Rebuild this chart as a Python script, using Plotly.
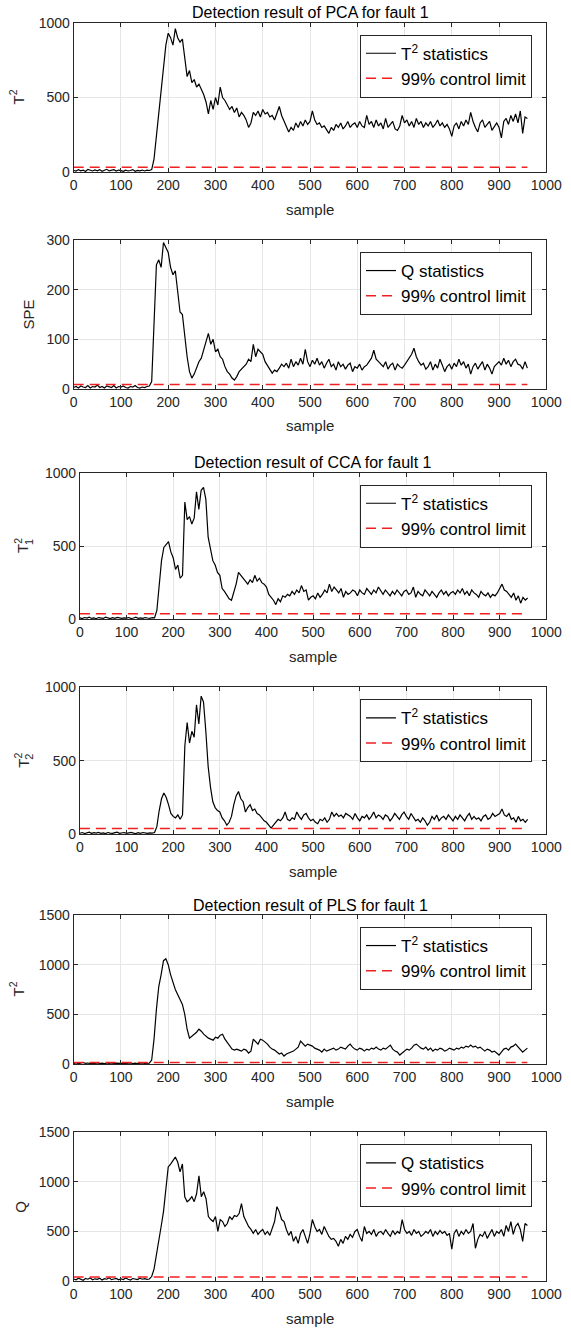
import plotly.graph_objects as go

sample_step = 5

pca_t2 = [
    12, 8, 18, 10, 15, 6, 20, 12, 9, 16,
    10, 18, 7, 14, 20, 9, 13, 17, 8, 15,
    11, 6, 14, 9, 12, 18, 7, 13, 10, 15,
    9, 14, 12, 18, 90, 240, 380, 520, 700, 850,
    930, 900, 850, 960, 900, 870, 890, 760, 640, 680,
    600, 620, 570, 590, 560, 520, 470, 390, 480, 420,
    500, 450, 570, 500, 480, 450, 420, 440, 400, 430,
    370, 400, 380, 350, 300, 330, 400, 380, 410, 370,
    420, 390, 400, 370, 380, 350, 400, 440, 380, 340,
    310, 270, 300, 280, 330, 300, 340, 310, 350, 320,
    340, 410, 350, 320, 330, 300, 310, 280, 260, 300,
    280, 320, 300, 330, 290, 310, 340, 300, 320, 330,
    300, 340, 310, 300, 380, 320, 340, 300, 350, 310,
    330, 290, 360, 300, 320, 340, 290, 280, 310, 380,
    330, 350, 310, 340, 300, 360, 320, 340, 300, 330,
    310, 340, 300, 320, 350, 310, 330, 300, 320, 290,
    240, 310, 330, 290, 340, 310, 350, 320, 400, 340,
    300, 270, 330, 350, 300, 320, 340, 280, 310, 330,
    300, 230, 340, 360, 320, 380, 340, 390, 330, 410,
    260, 370, 360,
]

pca_spe = [
    3, 5, 2, 6, 4, 3, 7, 2, 5, 4,
    8, 3, 5, 2, 6, 4, 3, 7, 2, 5,
    4, 6, 3, 2, 5, 4, 7, 3, 2, 4,
    3, 5, 6, 15, 120, 250, 260, 245, 295, 285,
    275, 245, 230, 238, 195, 155, 150, 105, 65, 35,
    22, 30, 42, 55, 62, 80, 95, 112, 90, 100,
    75, 80, 65, 60, 45, 35, 30, 22, 18, 25,
    35, 40, 45, 50, 60, 55, 90, 65, 80, 75,
    70, 55, 48, 40, 32, 38, 35, 42, 50, 45,
    52, 42, 60, 45, 55, 48, 62, 50, 80, 55,
    45, 58, 50, 62, 48, 55, 42, 52, 60, 45,
    50, 38, 55, 45, 50, 40, 48, 52, 35, 45,
    42, 50, 38, 45, 48, 55, 62, 78, 60, 55,
    50, 45, 55, 40, 48, 52, 38, 50, 45, 42,
    48, 55, 62, 70, 82, 65, 55, 48, 52, 40,
    45, 55, 38, 50, 42, 60, 48, 35, 45, 50,
    40, 52, 45, 60, 48, 55, 42, 50, 30, 45,
    52, 40, 48, 55, 38, 50, 42, 30, 45, 50,
    55, 48, 62, 50, 58, 45, 55, 60, 50, 48,
    40, 55, 42,
]

cca_t1 = [
    10, 5, 12, 8, 15, 6, 10, 4, 12, 8,
    6, 14, 9, 5, 11, 7, 13, 9, 6, 10,
    8, 12, 5, 9, 14, 7, 10, 6, 12, 9,
    7, 11, 10, 60, 220, 400, 490, 510, 530, 460,
    420, 340, 370, 280, 300, 800, 680, 700, 650, 690,
    870, 750, 880, 900, 820, 560, 470, 400, 370, 320,
    300, 210, 190, 160, 140, 130, 180, 240, 320, 300,
    280, 260, 240, 270, 250, 300, 260, 280, 250, 240,
    220, 170, 150, 130, 100, 140, 120, 160, 150, 170,
    160, 190, 170, 200, 180, 230, 190, 200, 130, 150,
    160, 140, 180, 150, 170, 200, 180, 240, 190, 220,
    200, 180, 210, 150, 190, 170, 180, 200, 190, 160,
    200, 180, 170, 210, 190, 170, 200, 180, 220, 190,
    170, 200, 180, 160, 190, 170, 200, 180, 160, 190,
    200, 170, 180, 220, 150, 190, 170, 160, 200, 180,
    160, 190, 170, 150, 180, 200, 170, 190, 160, 180,
    190, 170, 200, 180, 210, 170, 190, 160, 200, 180,
    170, 150, 190, 170, 160, 180, 150, 170, 160, 180,
    210, 240, 200, 190, 170, 150, 180, 130, 160, 110,
    150, 130, 145,
]

cca_t2 = [
    5, 10, 3, 8, 12, 4, 9, 6, 11, 5,
    8, 3, 10, 6, 4, 9, 12, 5, 7, 10,
    4, 8, 11, 6, 3, 9, 5, 10, 7, 4,
    8, 6, 10, 50, 160, 240, 280, 250, 200, 140,
    120, 110, 130, 100, 130, 600, 760, 620, 700, 660,
    880, 750, 940, 900, 700, 460, 320, 220, 180, 160,
    150, 110, 90, 60, 80, 120, 200, 260, 290, 240,
    220, 150, 180, 200, 160, 170, 140, 130, 110, 90,
    80, 60, 40, 60, 80, 100, 90, 110, 150, 100,
    90, 110, 100, 150, 120, 100, 130, 140, 110, 90,
    100, 80, 70, 100, 90, 110, 80, 100, 150, 120,
    140, 120, 130, 110, 140, 130, 120, 100, 140, 110,
    90, 120, 110, 130, 100, 120, 150, 110, 130, 120,
    100, 130, 120, 90, 110, 140, 120, 100, 130, 150,
    120, 100, 140, 110, 90, 100, 80, 110, 90, 60,
    80, 120, 100, 130, 90, 110, 120, 100, 130, 110,
    90, 120, 100, 130, 110, 90, 120, 140, 100, 120,
    100, 110, 90, 120, 130, 100, 110, 140, 120, 130,
    140, 170, 130, 120, 140, 100, 110, 80, 120, 90,
    100, 80, 100,
]

pls_t2 = [
    5, 12, 3, 8, 15, 6, 10, 4, 9, 7,
    11, 5, 8, 3, 10, 6, 12, 4, 9, 7,
    6, 10, 4, 8, 12, 5, 9, 3, 7, 11,
    6, 9, 8, 40, 250, 550, 780, 900, 1040, 1060,
    1000, 900, 820, 750, 700, 640, 600, 500, 350, 260,
    280, 300, 320, 350, 330, 300, 280, 260, 250, 240,
    270, 260, 290, 300, 250, 220, 180, 150, 140, 150,
    140, 130, 150, 140, 110, 130, 250, 220, 200, 250,
    240, 220, 200, 170, 150, 140, 120, 100, 110, 80,
    100, 110, 120, 130, 150, 170, 230, 200, 180, 200,
    190, 180, 160, 150, 140, 120, 150, 130, 140, 150,
    160, 140, 150, 170, 160, 150, 180, 200, 170, 150,
    140, 160, 150, 130, 150, 140, 160, 150, 170, 150,
    140, 160, 150, 170, 190, 150, 130, 120, 90, 110,
    130, 150, 140, 160, 190, 200, 180, 160, 150, 170,
    140, 160, 130, 150, 140, 160, 150, 130, 140, 160,
    150, 140, 160, 150, 170, 160, 180, 170, 190, 170,
    180, 160, 170, 150, 130, 150, 140, 120, 130, 110,
    90, 120, 150, 160, 140, 170, 180, 200, 170, 150,
    120, 140, 160,
]

pls_q = [
    20, 12, 28, 15, 8, 25, 18, 30, 12, 22,
    16, 28, 10, 24, 18, 32, 14, 20, 26, 12,
    22, 15, 30, 18, 10, 25, 20, 14, 28, 18,
    24, 16, 20, 45, 120, 250, 380, 550, 700, 950,
    1150, 1180, 1220, 1250, 1200, 1100, 1180, 850, 800, 820,
    850, 800, 880, 1060, 850, 900, 830, 650, 620, 600,
    650, 500, 620, 600, 550, 580, 650, 620, 660, 650,
    680, 780, 650, 600, 550, 520, 480, 520, 470, 500,
    520, 470, 500, 460, 520, 600, 750, 700, 620, 600,
    520, 460, 500, 400, 450, 380, 480, 520, 450, 380,
    480, 620, 550, 500, 520, 470, 550, 500, 450, 420,
    430, 400, 350, 420, 380, 450, 420, 470, 440, 500,
    520, 450, 400, 550, 480, 500, 470, 520, 450, 490,
    500, 470, 520, 480, 450, 510, 470, 500, 480, 620,
    520, 480, 500, 460, 520, 480, 500, 450, 470, 500,
    480, 520, 450, 500, 470, 510, 480, 500, 460, 480,
    320, 480, 520, 450, 500, 470, 520, 480, 500, 580,
    330, 420, 470, 450, 500, 430, 480, 520, 450, 500,
    480, 520, 450, 560, 500, 600, 470, 550, 580, 520,
    400, 580, 560,
]

stat_series = [pca_t2, pca_spe, cca_t1, cca_t2, pls_t2, pls_q]
limit_values = [33, 9, 38, 38, 15, 40]
stat_names = ["T<sup>2</sup> statistics", "Q statistics", "T<sup>2</sup> statistics",
              "T<sup>2</sup> statistics", "T<sup>2</sup> statistics", "Q statistics"]
limit_name = "99% control limit"
# y label: (main text, stacked subscript or None)
y_labels = [("T<sup>2</sup>", None), ("SPE", None), ("T<sup>2</sup>", "1"),
            ("T<sup>2</sup>", "2"), ("T<sup>2</sup>", None), ("Q", None)]
panel_titles = {0: "Detection result of PCA for fault 1",
                2: "Detection result of CCA for fault 1",
                4: "Detection result of PLS for fault 1"}
y_max = [1000, 300, 1000, 1000, 1500, 1500]
y_dtick = [500, 100, 500, 500, 500, 500]
x_label = "sample"

# ---------------- layout geometry (pixels) ----------------
W, H = 571, 1330
panels_px = [  # (left, right, top, bottom)
    (73.7, 546.3, 22.7, 172.3),
    (73.7, 546.3, 240.0, 389.0),
    (79.9, 546.3, 472.7, 619.3),
    (79.9, 546.3, 687.3, 834.0),
    (73.7, 546.3, 915.0, 1064.0),
    (73.7, 546.3, 1132.3, 1281.0),
]
ylab_x = [17, 28, 22, 22, 17, 21]

FONT = "Liberation Sans, Arial, sans-serif"
AX = "#262626"

fig = go.Figure()
annotations = []
for i, ser in enumerate(stat_series):
    n = i + 1
    xs = [k * sample_step for k in range(len(ser))]
    xa = "x" if n == 1 else f"x{n}"
    ya = "y" if n == 1 else f"y{n}"
    lg = "legend" if n == 1 else f"legend{n}"
    fig.add_trace(go.Scatter(x=xs, y=ser, mode="lines", name=stat_names[i],
                             line=dict(color="black", width=1.2),
                             xaxis=xa, yaxis=ya, legend=lg))
    fig.add_trace(go.Scatter(x=[xs[0], xs[-1]], y=[limit_values[i]] * 2, mode="lines",
                             name=limit_name,
                             line=dict(color="#f02020", width=1.5, dash="10px,6px"),
                             xaxis=xa, yaxis=ya, legend=lg))
    l, r, t, b = panels_px[i]
    xd = [l / W, r / W]
    yd = [1 - b / H, 1 - t / H]
    axis_common = dict(showline=True, linecolor=AX, linewidth=1, mirror="ticks",
                       ticks="inside", ticklen=4, tickcolor=AX, showgrid=True,
                       gridcolor="#e6e6e6", gridwidth=1, zeroline=False,
                       tickfont=dict(family=FONT, size=14, color=AX))
    fig.layout[f"xaxis{'' if n == 1 else n}"] = dict(
        axis_common, domain=xd, anchor=ya, range=[0, 1000], tickmode="linear",
        tick0=0, dtick=100, automargin=False)
    fig.layout[f"yaxis{'' if n == 1 else n}"] = dict(
        axis_common, domain=yd, anchor=xa, range=[0, y_max[i]], tickmode="linear",
        tick0=0, dtick=y_dtick[i], automargin=False)
    fig.layout[lg] = dict(x=532 / W, xanchor="right", y=1 - (t + 12) / H, yanchor="top",
                          bgcolor="white", bordercolor=AX, borderwidth=1,
                          font=dict(family=FONT, size=17, color="black"),
                          tracegroupgap=0, itemwidth=30)
    # axis labels
    main_lab, sub_lab = y_labels[i]
    ymid = 1 - (t + b) / 2 / H
    annotations.append(dict(text=main_lab, x=ylab_x[i] / W, y=ymid,
                            xref="paper", yref="paper", showarrow=False, textangle=-90,
                            xanchor="center", yanchor="middle",
                            font=dict(family=FONT, size=15, color=AX)))
    if sub_lab is not None:
        annotations.append(dict(text=sub_lab, x=ylab_x[i] / W, y=ymid,
                                xshift=7, yshift=4,
                                xref="paper", yref="paper", showarrow=False, textangle=-90,
                                xanchor="center", yanchor="middle",
                                font=dict(family=FONT, size=11, color=AX)))
    annotations.append(dict(text=x_label, x=(l + r) / 2 / W, y=1 - (b + 37) / H,
                            xref="paper", yref="paper", showarrow=False,
                            xanchor="center", yanchor="middle",
                            font=dict(family=FONT, size=15, color=AX)))
    if i in panel_titles:
        annotations.append(dict(text=panel_titles[i], x=(l + r) / 2 / W, y=1 - (t - 10) / H,
                                xref="paper", yref="paper", showarrow=False,
                                xanchor="center", yanchor="middle",
                                font=dict(family=FONT, size=16, color="black")))

fig.update_layout(width=W, height=H, margin=dict(l=0, r=0, t=0, b=0),
                  paper_bgcolor="white", plot_bgcolor="white",
                  annotations=annotations, showlegend=True)

fig.write_html("out.html")
